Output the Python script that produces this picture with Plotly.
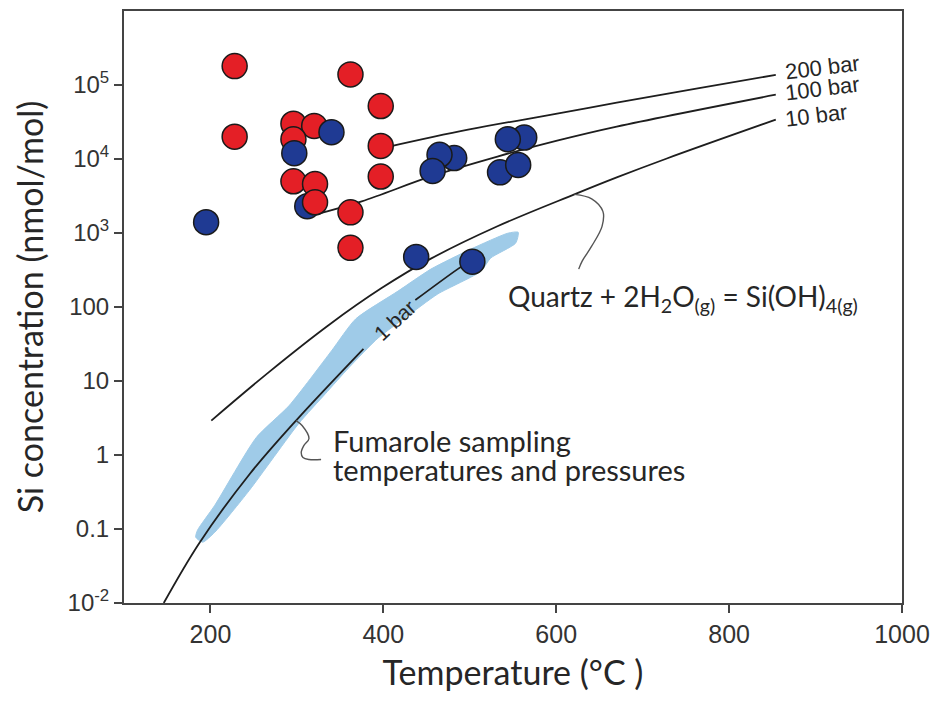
import math
import plotly.graph_objects as go

# ---------------- data ----------------
# sample points (temperature in °C, Si in nmol/mol)
red_T = [228, 228, 362, 397, 296, 320, 296, 397, 296, 321, 321, 397, 362, 362]
red_Si = [1.8e5, 2.0e4, 1.39e5, 5.2e4, 3.0e4, 2.8e4, 1.85e4, 1.5e4, 5.0e3, 4.6e3, 2.6e3, 5.8e3, 1.9e3, 630]

blue_T = [312, 195, 340, 297, 482, 465, 457, 563, 544, 535, 556, 438, 503]
blue_Si = [2.3e3, 1.4e3, 2.3e4, 1.2e4, 1.03e4, 1.14e4, 6.9e3, 1.95e4, 1.85e4, 6.6e3, 8.3e3, 475, 410]

# quartz solubility curves
T_1bar_low = [146, 187, 245, 299, 377]
Si_1bar_low = [0.0100, 0.0643, 0.546, 2.92, 27.2]
T_1bar_high = [437, 486, 502]
Si_1bar_high = [124, 325, 430]

T_10bar = [201, 268, 337, 398, 455, 532, 621, 670, 728, 854]
Si_10bar = [2.92, 13.3, 57.2, 180, 450, 1233, 3327, 5636, 10160, 34000]

T_100bar = [322, 375, 455, 532, 601, 670, 854]
Si_100bar = [1790, 2680, 5810, 10800, 17700, 27400, 74000]

T_200bar = [402, 498, 601, 670, 762, 854]
Si_200bar = [14300, 24900, 41000, 57700, 89100, 137000]

# fumarole sampling band (outline)
band_T = [185, 205, 253, 291, 340, 368, 417, 455, 501, 544, 556, 553,
          524, 513, 463, 425, 394, 360, 333, 302, 245, 205, 191, 183, 185]
band_Si = [0.0962, 0.209, 1.72, 4.65, 25.5, 68.9, 164, 325, 604, 993, 1023, 728,
           457, 305, 150, 71.1, 38.2, 15.1, 6.73, 2.65, 0.333, 0.0904, 0.0664, 0.0774, 0.0962]

# leader lines for the text labels
quartz_lead_T = [621, 641, 654, 653, 641, 630, 626]
quartz_lead_Si = [3327, 2900, 1960, 1230, 663, 417, 325]
fum_lead_T = [299, 306, 314, 308, 305, 307, 314, 328]
fum_lead_Si = [2.92, 2.50, 1.67, 1.34, 1.08, 0.925, 0.869, 0.869]

x_ticks = [200, 400, 600, 800, 1000]
y_tickvals = [1e-2, 0.1, 1, 10, 100, 1e3, 1e4, 1e5]
y_ticktext = ['10<sup>-2</sup>', '0.1', '1', '10', '100', '10<sup>3</sup>', '10<sup>4</sup>', '10<sup>5</sup>']

# ---------------- styles ----------------
RED = '#e41f26'
BLUE = '#1f3a93'
BAND = '#9fcbe8'
LINE = '#1e1e1e'
TXT = '#262626'
HUMANIST = 'Lato, "Open Sans", sans-serif'
ARIAL = '"Liberation Sans", Arial, sans-serif'

fig = go.Figure()

fig.add_trace(go.Scatter(x=band_T, y=band_Si, mode='lines', fill='toself',
                         fillcolor=BAND, line=dict(color=BAND, width=1, shape='spline', smoothing=0.6),
                         hoverinfo='skip', showlegend=False))

curve_style = dict(color=LINE, width=1.8, shape='spline', smoothing=1.0)
for tx, sy in [(T_1bar_low, Si_1bar_low), (T_1bar_high, Si_1bar_high),
               (T_10bar, Si_10bar), (T_100bar, Si_100bar), (T_200bar, Si_200bar)]:
    fig.add_trace(go.Scatter(x=tx, y=sy, mode='lines', line=curve_style,
                             showlegend=False, hoverinfo='skip'))

lead_style = dict(color='#555555', width=1.4, shape='spline', smoothing=1.0)
fig.add_trace(go.Scatter(x=quartz_lead_T, y=quartz_lead_Si, mode='lines',
                         line=lead_style, showlegend=False, hoverinfo='skip'))
fig.add_trace(go.Scatter(x=fum_lead_T, y=fum_lead_Si, mode='lines',
                         line=lead_style, showlegend=False, hoverinfo='skip'))

mk = dict(size=25, line=dict(color='#1a1a1a', width=1.5))
fig.add_trace(go.Scatter(x=blue_T[:1], y=blue_Si[:1], mode='markers',
                         marker=dict(color=BLUE, **mk), showlegend=False))
fig.add_trace(go.Scatter(x=red_T, y=red_Si, mode='markers',
                         marker=dict(color=RED, **mk), showlegend=False))
fig.add_trace(go.Scatter(x=blue_T[1:], y=blue_Si[1:], mode='markers',
                         marker=dict(color=BLUE, **mk), showlegend=False))

L = math.log10
annotations = [
    dict(x=861, y=L(1.75e5), text='200 bar', textangle=-7, xanchor='left', yanchor='middle',
         font=dict(family=ARIAL, size=22, color=TXT)),
    dict(x=861, y=L(8.9e4), text='100 bar', textangle=-7, xanchor='left', yanchor='middle',
         font=dict(family=ARIAL, size=22, color=TXT)),
    dict(x=861, y=L(3.85e4), text='10 bar', textangle=-7, xanchor='left', yanchor='middle',
         font=dict(family=ARIAL, size=22, color=TXT)),
    dict(x=413, y=L(66), text='1 bar', textangle=-43, xanchor='center', yanchor='middle',
         font=dict(family=ARIAL, size=21, color=TXT)),
    dict(x=747, y=L(132), text='Quartz + 2H<sub>2</sub>O<sub>(g)</sub> = Si(OH)<sub>4(g)</sub>',
         xanchor='center', yanchor='middle', font=dict(family=HUMANIST, size=28, color=TXT)),
    dict(x=340, y=L(1.55), text='Fumarole sampling', xanchor='left', yanchor='middle',
         font=dict(family=HUMANIST, size=29, color=TXT)),
    dict(x=340, y=L(0.64), text='temperatures and pressures', xanchor='left', yanchor='middle',
         font=dict(family=HUMANIST, size=29, color=TXT)),
]
for a in annotations:
    a.update(xref='x', yref='y', showarrow=False)

fig.update_layout(
    width=939, height=702,
    margin=dict(l=124, r=33, t=9, b=99),
    plot_bgcolor='white', paper_bgcolor='white',
    annotations=annotations,
    xaxis=dict(range=[100, 1000], tickvals=x_ticks, ticks='outside', ticklen=8, tickwidth=1.5,
               tickcolor='#444', showline=True, linecolor='#444', linewidth=2, mirror=True,
               showgrid=False, zeroline=False,
               tickfont=dict(family=ARIAL, size=25, color='#333'),
               title=dict(text='Temperature (°C )', standoff=14,
                          font=dict(family=HUMANIST, size=34, color=TXT))),
    yaxis=dict(type='log', range=[-2, 6], tickvals=y_tickvals, ticktext=y_ticktext,
               ticks='outside', ticklen=8, tickwidth=1.5, tickcolor='#444',
               showline=True, linecolor='#444', linewidth=2, mirror=True,
               showgrid=False, zeroline=False,
               tickfont=dict(family=ARIAL, size=24, color='#333'),
               title=dict(text='Si concentration (nmol/mol)', standoff=14,
                          font=dict(family=HUMANIST, size=34, color=TXT))),
)

fig.write_html('out.html')
